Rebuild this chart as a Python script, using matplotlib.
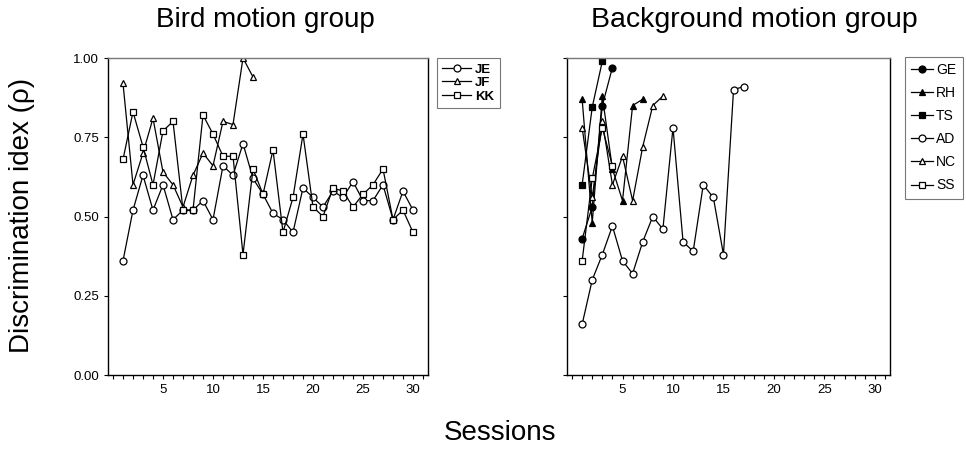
import matplotlib
matplotlib.use("Agg")
import matplotlib.pyplot as plt

plt.rcParams['font.family'] = ['Liberation Sans', 'DejaVu Sans']

# ---- data ----
sessions_bird = list(range(1, 31))
je = [0.36, 0.52, 0.63, 0.52, 0.60, 0.49, 0.52, 0.52, 0.55, 0.49,
      0.66, 0.63, 0.73, 0.62, 0.57, 0.51, 0.49, 0.45, 0.59, 0.56,
      0.53, 0.58, 0.56, 0.61, 0.55, 0.55, 0.60, 0.49, 0.58, 0.52]
jf = [0.92, 0.60, 0.70, 0.81, 0.64, 0.60, 0.53, 0.63, 0.70, 0.66,
      0.80, 0.79, 1.00, 0.94]
kk = [0.68, 0.83, 0.72, 0.60, 0.77, 0.80, 0.52, 0.52, 0.82, 0.76,
      0.69, 0.69, 0.38, 0.65, 0.57, 0.71, 0.45, 0.56, 0.76, 0.53,
      0.50, 0.59, 0.58, 0.53, 0.57, 0.60, 0.65, 0.49, 0.52, 0.45]

ge = [0.43, 0.53, 0.85, 0.97]
rh = [0.87, 0.48, 0.88, 0.65, 0.55, 0.85, 0.87]
ts = [0.60, 0.845, 0.99]
ad = [0.16, 0.30, 0.38, 0.47, 0.36, 0.32, 0.42, 0.50, 0.46, 0.78,
      0.42, 0.39, 0.60, 0.56, 0.38, 0.90, 0.91]
nc = [0.78, 0.56, 0.80, 0.60, 0.69, 0.55, 0.72, 0.85, 0.88]
ss = [0.36, 0.62, 0.78, 0.66]

bird_names = ["JE", "JF", "KK"]
bg_names = ["GE", "RH", "TS", "AD", "NC", "SS"]
yticks = [0.00, 0.25, 0.50, 0.75, 1.00]
xticks = [5, 10, 15, 20, 25, 30]

fig = plt.figure(figsize=(9.66, 4.57), dpi=100)
ax1 = fig.add_axes([108/966, 82/457, 320/966, 317/457])
ax2 = fig.add_axes([567/966, 82/457, 323/966, 317/457])

ms = 5.0
lw = 0.9
def plot_series(ax, vals, marker, filled, label):
    x = list(range(1, len(vals) + 1))
    ax.plot(x, vals, color='black', lw=lw, marker=marker, markersize=ms,
            markerfacecolor='black' if filled else 'white',
            markeredgecolor='black', markeredgewidth=0.9, label=label)

plot_series(ax1, je, 'o', False, bird_names[0])
plot_series(ax1, jf, '^', False, bird_names[1])
plot_series(ax1, kk, 's', False, bird_names[2])

plot_series(ax2, ge, 'o', True, bg_names[0])
plot_series(ax2, rh, '^', True, bg_names[1])
plot_series(ax2, ts, 's', True, bg_names[2])
plot_series(ax2, ad, 'o', False, bg_names[3])
plot_series(ax2, nc, '^', False, bg_names[4])
plot_series(ax2, ss, 's', False, bg_names[5])

for ax in (ax1, ax2):
    ax.set_xlim(-0.5, 31.5)
    ax.set_ylim(0, 1.0)
    ax.set_xticks(xticks)
    ax.set_xticks(range(0, 32), minor=True)
    ax.set_yticks(yticks)
    ax.tick_params(axis='both', which='major', length=3, width=0.8,
                   labelsize=9.5, direction='out')
    ax.tick_params(axis='x', which='minor', length=3, width=0.8, direction='out')
    for sp in ax.spines.values():
        sp.set_linewidth(1.0)
        sp.set_color('black')
    ax.spines['top'].set_color('#777777')

ax1.set_yticklabels([f"{v:.2f}" for v in yticks])
ax2.set_yticklabels([])

leg1 = ax1.legend(loc='upper left', bbox_to_anchor=(437/966, 1 - 58/457),
                  bbox_transform=fig.transFigure, frameon=True, fancybox=False,
                  handlelength=2.2, handletextpad=0.3,
                  labelspacing=0.1, borderpad=0.4, borderaxespad=0,
                  prop={'weight': 'bold', 'size': 9.5})
leg1.get_frame().set_edgecolor('#555555')
leg1.get_frame().set_linewidth(0.8)

leg2 = ax2.legend(loc='upper left', bbox_to_anchor=(905/966, 1 - 57/457),
                  bbox_transform=fig.transFigure, frameon=True, fancybox=False,
                  handlelength=1.6, handletextpad=0.2,
                  labelspacing=0.65, borderpad=0.45, borderaxespad=0,
                  prop={'size': 10})
leg2.get_frame().set_edgecolor('#555555')
leg2.get_frame().set_linewidth(0.8)

fig.text(265/966, 1 - 20/457, "Bird motion group", ha='center', va='center', fontsize=20)
fig.text(754/966, 1 - 20/457, "Background motion group", ha='center', va='center', fontsize=20.5)
fig.text(500/966, 1 - 433/457, "Sessions", ha='center', va='center', fontsize=20)
fig.text(22/966, 1 - 215/457, "Discrimination idex (ρ)", ha='center', va='center',
         rotation=90, fontsize=20)

fig.savefig("out.png", dpi=100)
